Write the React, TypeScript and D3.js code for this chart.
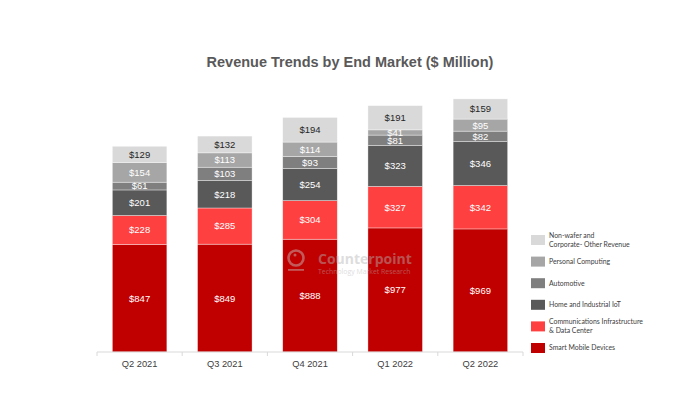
import * as d3 from "d3";

const quarters = ["Q2 2021", "Q3 2021", "Q4 2021", "Q1 2022", "Q2 2022"];

// bottom to top
const segments = [
    "Smart Mobile Devices",
    "Communications Infrastructure & Data Center",
    "Home and Industrial IoT",
    "Automotive",
    "Personal Computing",
    "Non-wafer and Corporate- Other Revenue",
];
const smartMobile = [847, 849, 888, 977, 969];
const comms = [228, 285, 304, 327, 342];
const homeIot = [201, 218, 254, 323, 346];
const automotive = [61, 103, 93, 81, 82];
const personal = [154, 113, 114, 41, 95];
const nonWafer = [129, 132, 194, 191, 159];

const colors = ["#C00000", "#FF4040", "#595959", "#7F7F7F", "#A6A6A6", "#D9D9D9"];

const legendLines = [
    ["Smart Mobile Devices"],
    ["Communications Infrastructure", "& Data Center"],
    ["Home and Industrial IoT"],
    ["Automotive"],
    ["Personal Computing"],
    ["Non-wafer and", "Corporate- Other Revenue"],
];

const W = 696;
const H = 403;

export default function App() {
    const series = [smartMobile, comms, homeIot, automotive, personal, nonWafer];
    const rows = quarters.map((q, i) => {
        const r: any = { q };
        segments.forEach((s, k) => (r[s] = series[k][i]));
        return r;
    });
    const stacked = d3.stack<any>().keys(segments)(rows);

    const x = d3.scaleBand().domain(quarters).range([97, 523]).paddingInner(0.36).paddingOuter(0.18);
    const y = d3.scaleLinear().domain([0, 2000]).range([352, 98]);
    const step = x.step();
    const font = "'Liberation Sans', Arial, sans-serif";

    const legendY = d3.scalePoint().domain(segments).range([348, 240]);

    return (
        <svg width={W} height={H} style={{ position: "absolute", left: 0, top: 0 }} fontFamily={font}>
            <rect width={W} height={H} fill="#fff" />
            <text x={350} y={67} textAnchor="middle" fontSize={14.5} fontWeight="bold" fill="#595959">
                Revenue Trends by End Market ($ Million)
            </text>

            {stacked.map((layer, k) => (
                <g key={layer.key}>
                    {layer.map((d, i) => {
                        const x0 = x(quarters[i])!;
                        const y0 = y(d[1]);
                        const h = y(d[0]) - y(d[1]);
                        return (
                            <g key={i}>
                                <rect x={x0} y={y0} width={x.bandwidth()} height={h} fill={colors[k]} stroke="#fff" strokeOpacity={0.6} strokeWidth={0.6} />
                                <text x={x0 + x.bandwidth() / 2} y={y0 + h / 2} dy="0.36em" textAnchor="middle" fontSize={9.5}
                                    fill={k === segments.length - 1 ? "#262626" : "#fff"}>
                                    ${series[k][i]}
                                </text>
                            </g>
                        );
                    })}
                </g>
            ))}

            {/* watermark */}
            <g opacity={0.45}>
                <circle cx={296} cy={258} r={7.5} fill="none" stroke="#c8c8c8" strokeWidth={2.6} />
                <circle cx={295} cy={255} r={1.5} fill="#c8c8c8" />
                <rect x={288} y={269} width={16} height={1.8} fill="#c8c8c8" />
                <text x={318} y={264} fontSize={14} fontWeight="bold" fill="#b4b4b4" fontFamily="'Open Sans', sans-serif">Counterpoint</text>
                <text x={318} y={274} fontSize={6.9} fill="#b4b4b4" fontFamily="'Open Sans', sans-serif">Technology Market Research</text>
            </g>

            <line x1={97} x2={523} y1={352} y2={352} stroke="#D9D9D9" />
            {d3.range(quarters.length + 1).map(i => (
                <line key={i} x1={97 + i * step} x2={97 + i * step} y1={352} y2={356} stroke="#D9D9D9" />
            ))}
            {quarters.map(q => (
                <text key={q} x={x(q)! + x.bandwidth() / 2} y={366.5} textAnchor="middle" fontSize={9.3} fill="#404040">{q}</text>
            ))}

            {segments.map((s, k) => {
                const cy = legendY(s)!;
                const lines = legendLines[k];
                return (
                    <g key={s}>
                        <rect x={531} y={cy - 5} width={14} height={10} fill={colors[k]} />
                        {lines.map((l, j) => (
                            <text key={j} x={549} y={cy + (j - (lines.length - 1) / 2) * 9} dy="0.35em" fontSize={6.9}
                                fill="#404040" fontFamily="Lato, 'Open Sans', sans-serif">{l}</text>
                        ))}
                    </g>
                );
            })}
        </svg>
    );
}
